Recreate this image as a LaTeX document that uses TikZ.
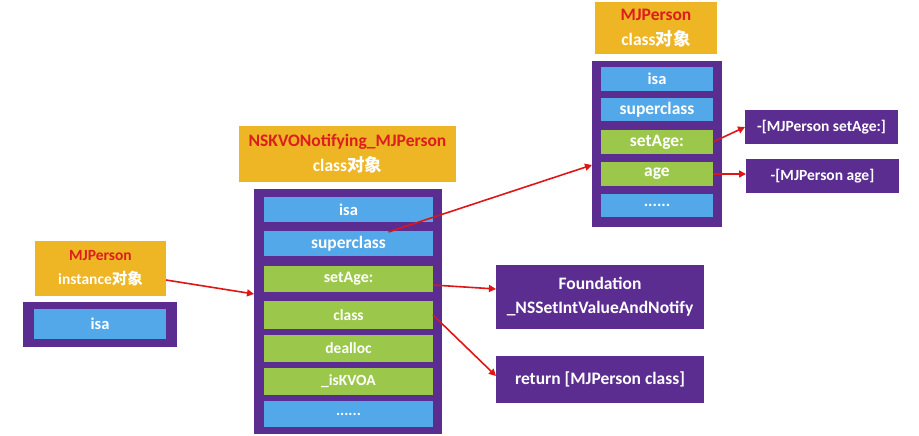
\documentclass[tikz,border=0pt]{standalone}
\usepackage{fontspec}
\setmainfont{Carlito}
\newfontfamily\cjk{Noto Sans CJK SC Bold}
\usetikzlibrary{arrows.meta}
\definecolor{kpurple}{RGB}{91,45,145}
\definecolor{kblue}{RGB}{82,168,233}
\definecolor{kgreen}{RGB}{155,200,75}
\definecolor{kyellow}{RGB}{238,181,36}
\definecolor{kred}{RGB}{220,30,30}
\definecolor{karrow}{RGB}{222,22,22}
\tikzset{
  box/.style={rectangle, inner sep=0pt, outer sep=0pt, anchor=north west, align=center},
  frame/.style={box, fill=kpurple},
  head/.style={box, fill=kyellow, text=white, font=\bfseries\fontsize{17.5}{25}\selectfont},
  bluerow/.style={box, fill=kblue, text=white, font=\bfseries\fontsize{16.5}{20}\selectfont},
  greenrow/.style={box, fill=kgreen, text=white, font=\bfseries\fontsize{16.5}{20}\selectfont},
  pnote/.style={box, fill=kpurple, text=white, font=\bfseries\fontsize{17.5}{24}\selectfont},
  arr/.style={draw=karrow, line width=1.6pt, -{Triangle[length=7pt,width=7pt]}},
}
\newcommand\pbox[7]{\node[#2, minimum width={(#5-#3)*1pt}, minimum height={(#6-#4)*1pt}] (#1) at (#3,#4) {#7};}
\begin{document}
\begin{tikzpicture}[x=1pt,y=-1pt]
\useasboundingbox[fill=white] (0,0) rectangle (919,436);
% left instance
\pbox{ihead}{head, font=\bfseries\fontsize{15.5}{24}\selectfont}{35}{241}{166}{296}{\textcolor{kred}{MJPerson}\\instance{\cjk 对象}}
\pbox{ibox}{frame}{23}{302}{177}{347}{}
\pbox{iisa}{bluerow}{34}{309}{166}{339}{isa}
% middle class
\pbox{mhead}{head}{239}{126}{456}{182}{\textcolor{kred}{NSKVONotifying\_MJPerson}\\class{\cjk 对象}}
\pbox{mbox}{frame}{254}{189}{442}{434}{}
\pbox{misa}{bluerow}{264}{197}{433}{222}{isa}
\pbox{msup}{bluerow, font=\bfseries\fontsize{17.5}{20}\selectfont}{264}{231}{433}{256}{superclass}
\pbox{mset}{greenrow, font=\bfseries\fontsize{16}{20}\selectfont}{264}{266}{433}{292}{setAge:}
\pbox{mcls}{greenrow, font=\bfseries\fontsize{15.5}{20}\selectfont}{264}{301}{433}{329}{class}
\pbox{mdea}{greenrow, font=\bfseries\fontsize{15.5}{20}\selectfont}{264}{335}{433}{362}{dealloc}
\pbox{mkvo}{greenrow, font=\bfseries\fontsize{15.5}{20}\selectfont}{264}{368}{433}{395}{\_isKVOA}
\pbox{mdot}{bluerow, font=\bfseries\fontsize{15.5}{20}\selectfont}{264}{401}{433}{427}{......}
% middle notes
\pbox{found}{pnote}{496}{265}{704}{329}{Foundation\\\_NSSetIntValueAndNotify}
\pbox{ret}{pnote}{496}{356}{704}{403}{return [MJPerson class]}
% right class
\pbox{rhead}{head}{595}{2}{717}{54}{\textcolor{kred}{MJPerson}\\class{\cjk 对象}}
\pbox{rbox}{frame}{592}{61}{722}{227}{}
\pbox{risa}{bluerow}{601}{67}{713}{91}{isa}
\pbox{rsup}{bluerow, font=\bfseries\fontsize{17.5}{20}\selectfont}{601}{98}{713}{121}{superclass}
\pbox{rset}{greenrow, font=\bfseries\fontsize{17.5}{20}\selectfont}{601}{130}{713}{154}{setAge:}
\pbox{rage}{greenrow, font=\bfseries\fontsize{17.5}{20}\selectfont}{601}{162}{713}{186}{age}
\pbox{rdot}{bluerow}{601}{194}{713}{217}{......}
% right notes
\pbox{nset}{pnote, font=\bfseries\fontsize{15.5}{20}\selectfont}{745}{110}{898}{144}{-[MJPerson setAge:]}
\pbox{nage}{pnote, font=\bfseries\fontsize{15.5}{20}\selectfont}{746}{159}{899}{193}{-[MJPerson age]}
% arrows
\draw[arr] ([yshift=-11.5pt]ihead.east) -- ([yshift=17.5pt]mbox.west);
\draw[arr] ([xshift=40pt,yshift=-1pt]msup.north) -- ([yshift=-21pt]rbox.west);
\draw[arr] ([yshift=-6pt]mset.east) -- ([yshift=8pt]found.west);
\draw[arr] (mcls.east) -- ([yshift=3.5pt]ret.west);
\draw[arr] (rset.east) -- (nset.west);
\draw[arr] (rage.east) -- ([yshift=2pt]nage.west);
\end{tikzpicture}
\end{document}
